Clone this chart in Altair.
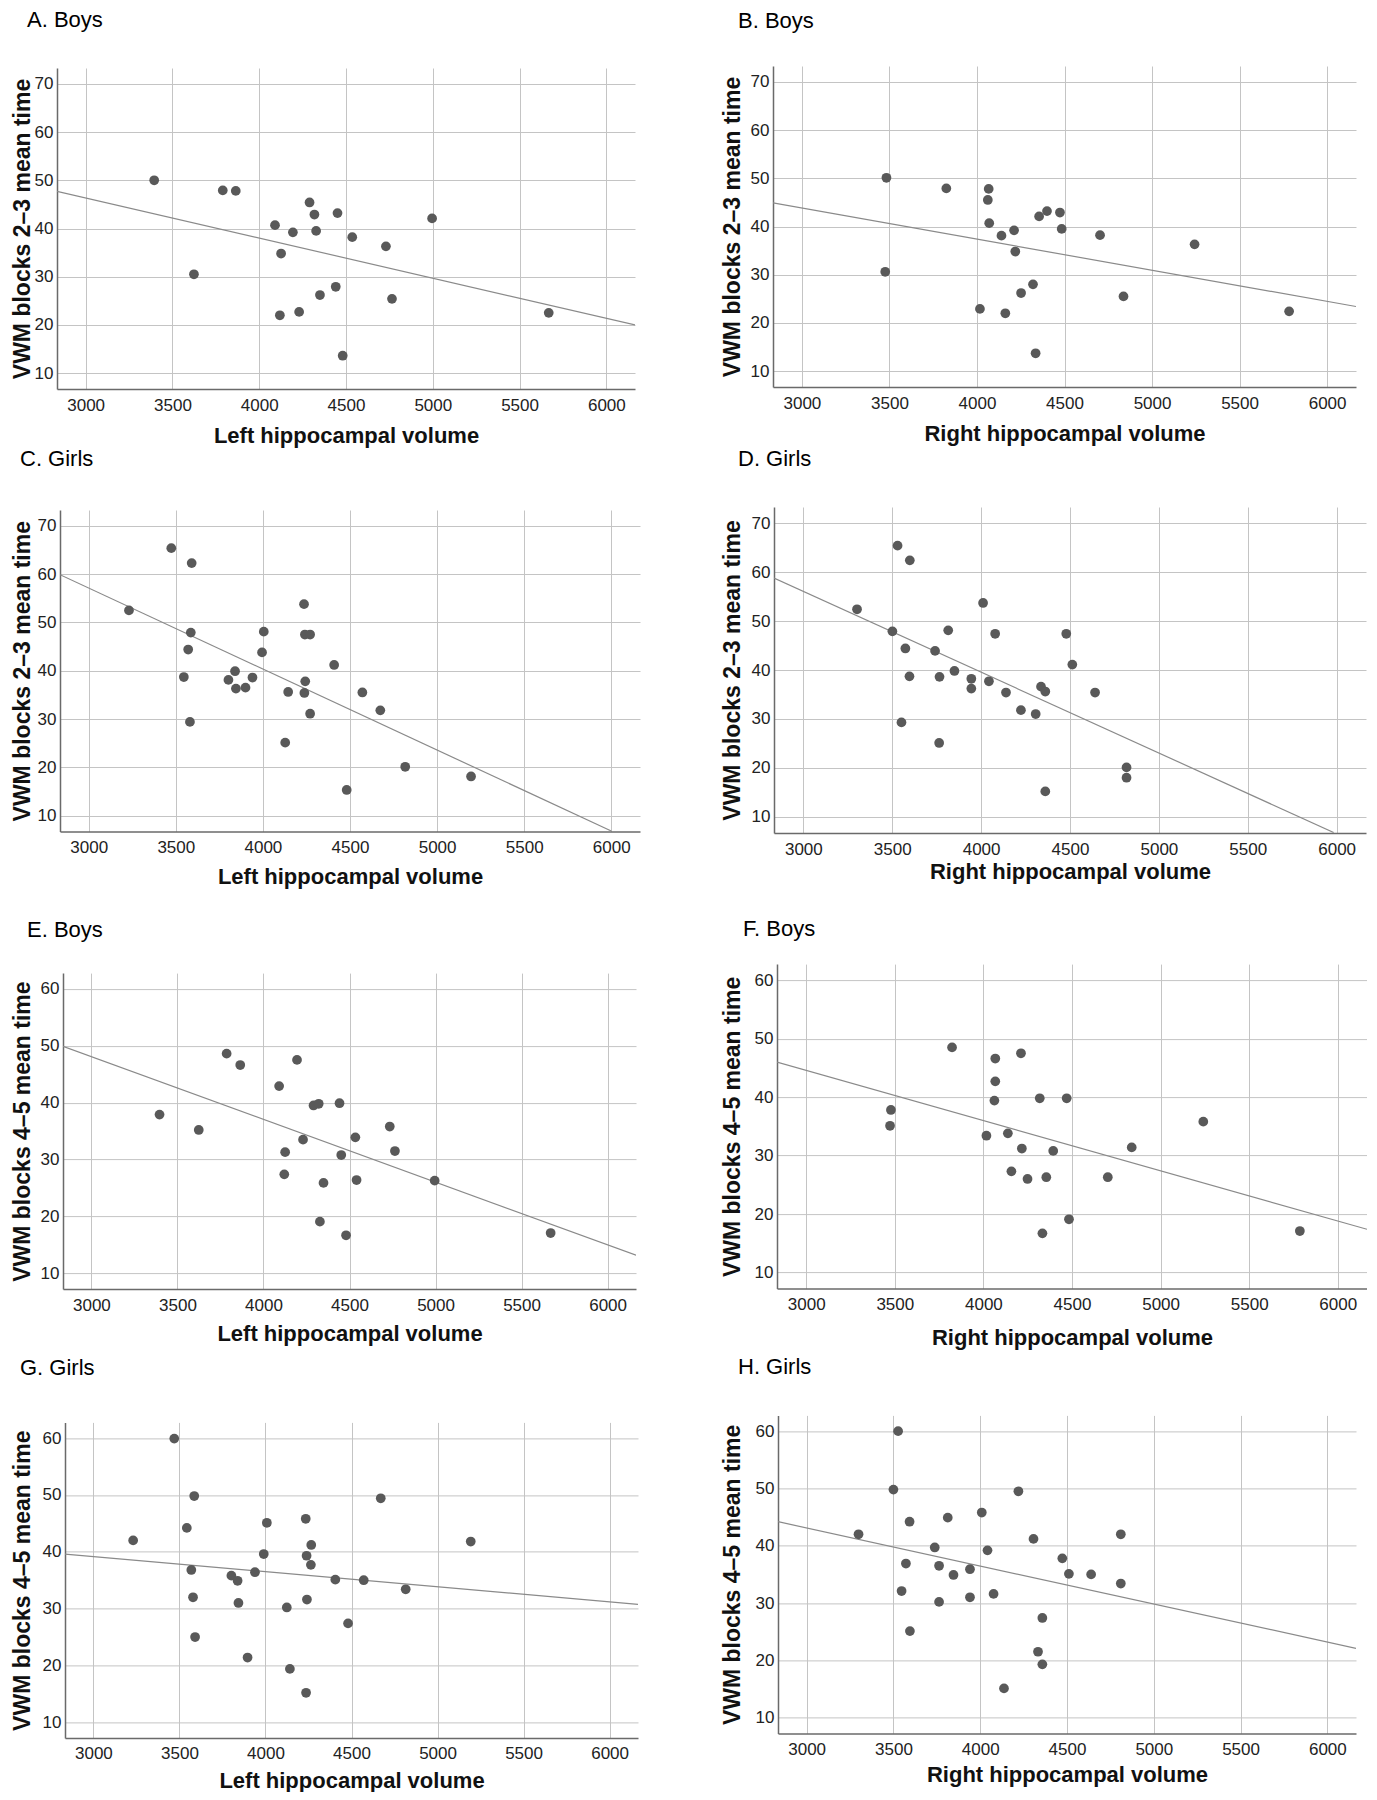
import altair as alt
import pandas as pd

# ---------------- data ----------------
X_TICKS = [3000, 3500, 4000, 4500, 5000, 5500, 6000]
Y_TICKS_23 = [10, 20, 30, 40, 50, 60, 70]
Y_TICKS_45 = [10, 20, 30, 40, 50, 60]
X_DOMAIN = [2835, 6165]
Y_DOMAIN_23 = [6.7, 73.3]
Y_DOMAIN_45 = [7.25, 62.75]

# A. Boys  - left volume vs blocks 2-3
A_x = [3395, 3624, 3790, 3865, 4091, 4126, 4119, 4194, 4230, 4290, 4318,
       4328, 4350, 4451, 4441, 4481, 4536, 4730, 4765, 4996, 5668]
A_y = [50.0, 30.5, 47.9, 47.8, 40.7, 34.8, 22.0, 39.2, 22.7, 45.4, 42.9,
       39.5, 26.2, 43.2, 27.9, 13.6, 38.2, 36.3, 25.4, 42.1, 22.5]
A_fit_x = [2835, 6165]
A_fit_y = [47.7, 20.0]

# B. Boys  - right volume vs blocks 2-3
B_x = [3483, 3476, 3825, 4067, 4062, 4070, 4140, 4212, 4219, 4017, 4162,
       4252, 4320, 4335, 4355, 4400, 4474, 4484, 4703, 4837, 5243, 5783]
B_y = [50.1, 30.6, 47.9, 47.8, 45.5, 40.7, 38.1, 39.2, 34.8, 22.9, 22.0,
       26.2, 28.0, 13.7, 42.1, 43.2, 42.9, 39.5, 38.2, 25.5, 36.3, 22.4]
B_fit_x = [2835, 6165]
B_fit_y = [44.9, 23.4]

# C. Girls - left volume vs blocks 2-3
C_x = [3231, 3474, 3591, 3586, 3571, 3546, 3581, 3802, 3840, 3845, 3900,
       3940, 4005, 3995, 4128, 4145, 4236, 4241, 4271, 4243, 4238, 4271,
       4409, 4481, 4571, 4674, 4817, 5195]
C_y = [52.5, 65.4, 62.3, 47.9, 44.4, 38.7, 29.4, 38.1, 39.9, 36.3, 36.5,
       38.6, 48.1, 43.8, 25.1, 35.6, 53.8, 47.5, 47.5, 37.8, 35.4, 31.1,
       41.2, 15.3, 35.5, 31.8, 20.1, 18.1]
C_fit_x = [2835, 6000]
C_fit_y = [59.9, 6.8]

# D. Girls - right volume vs blocks 2-3
D_x = [3302, 3530, 3599, 3501, 3574, 3597, 3552, 3741, 3766, 3764, 3815,
       3850, 3945, 3945, 4011, 4079, 4044, 4140, 4224, 4307, 4337, 4361,
       4361, 4479, 4513, 4641, 4818, 4818]
D_y = [52.4, 65.4, 62.4, 47.9, 44.4, 38.7, 29.3, 43.9, 38.6, 25.1, 48.1,
       39.8, 38.2, 36.2, 53.7, 47.4, 37.7, 35.4, 31.8, 31.0, 36.6, 35.6,
       15.2, 47.4, 41.1, 35.4, 20.1, 18.0]
D_fit_x = [2835, 5983]
D_fit_y = [58.8, 6.8]

# E. Boys  - left volume vs blocks 4-5
E_x = [3396, 3624, 3786, 3865, 4091, 4195, 4126, 4121, 4230, 4291, 4321,
       4328, 4349, 4442, 4452, 4480, 4534, 4541, 4734, 4764, 4995, 5669]
E_y = [37.9, 35.2, 48.6, 46.6, 42.9, 47.5, 31.3, 27.4, 33.5, 39.5, 39.8,
       19.1, 25.9, 39.9, 30.8, 16.7, 33.9, 26.4, 35.8, 31.5, 26.3, 17.1]
E_fit_x = [2835, 6165]
E_fit_y = [49.9, 13.2]

# F. Boys  - right volume vs blocks 4-5
F_x = [3478, 3473, 3823, 4067, 4067, 4062, 4017, 4138, 4212, 4217, 4158,
       4249, 4318, 4394, 4355, 4333, 4470, 4483, 4702, 4837, 5241, 5786]
F_y = [37.8, 35.1, 48.5, 46.6, 42.7, 39.4, 33.4, 33.8, 47.5, 31.2, 27.3,
       26.0, 39.8, 30.8, 26.3, 16.7, 39.8, 19.1, 26.3, 31.4, 35.8, 17.1]
F_fit_x = [2835, 6165]
F_fit_y = [46.0, 17.4]

# G. Girls - left volume vs blocks 4-5
G_x = [3231, 3470, 3586, 3543, 3569, 3579, 3591, 3802, 3838, 3843, 3896,
       3939, 3990, 4008, 4124, 4142, 4234, 4239, 4266, 4264, 4241, 4236,
       4406, 4480, 4571, 4670, 4815, 5193]
G_y = [42.0, 59.9, 49.8, 44.2, 36.8, 32.0, 25.0, 35.8, 34.9, 31.0, 21.4,
       36.4, 39.6, 45.1, 30.2, 19.4, 45.8, 39.3, 41.2, 37.7, 31.6, 15.2,
       35.1, 27.4, 35.0, 49.4, 33.4, 41.8]
G_fit_x = [2835, 6165]
G_fit_y = [39.6, 30.75]

# H. Girls - right volume vs blocks 4-5
H_x = [3299, 3527, 3500, 3593, 3572, 3547, 3595, 3738, 3763, 3763, 3813,
       3846, 3941, 3941, 4009, 4042, 4077, 4137, 4220, 4307, 4333, 4358,
       4358, 4473, 4511, 4639, 4810, 4810]
H_y = [42.0, 60.0, 49.8, 44.2, 36.9, 32.1, 25.1, 39.7, 36.5, 30.2, 44.9,
       34.9, 35.9, 31.0, 45.8, 39.2, 31.6, 15.1, 49.5, 41.2, 21.5, 27.4,
       19.3, 37.8, 35.1, 35.0, 42.0, 33.4]
H_fit_x = [2835, 6165]
H_fit_y = [44.2, 22.1]

LEFT_T = "Left hippocampal volume"
RIGHT_T = "Right hippocampal volume"
Y23_T = "VWM blocks 2\u20133 mean time"
Y45_T = "VWM blocks 4\u20135 mean time"

# ---------------- styling ----------------
FONT = "Liberation Sans"
PT_COLOR = "#595959"
FIT_COLOR = "#8a8a8a"
GRID_COLOR = "#c4c4c4"
DOMAIN_COLOR = "#6a6a6a"


def panel(title, xs, ys, fx, fy, xtitle, ytitle, ydom, yticks,
          w, h, dx, off, ytp, xtp):
    pts = pd.DataFrame({"x": xs, "y": ys})
    fit = pd.DataFrame({"x": fx, "y": fy})
    xs_ = alt.Scale(domain=X_DOMAIN, nice=False, zero=False)
    ys_ = alt.Scale(domain=ydom, nice=False, zero=False)
    common = dict(grid=True, ticks=False, labelFontSize=17, labelFont=FONT,
                  labelColor="#222222", titleFont=FONT, titleFontWeight="bold",
                  titleColor="#111111", gridColor=GRID_COLOR, gridWidth=1,
                  domainColor=DOMAIN_COLOR, domainWidth=1.5, format="d")
    xa = alt.Axis(values=X_TICKS, title=xtitle, labelPadding=8,
                  titlePadding=xtp, titleFontSize=22, **common)
    ya = alt.Axis(values=yticks, title=ytitle, labelPadding=4,
                  titlePadding=ytp, titleFontSize=23, **common)
    line = alt.Chart(fit).mark_line(color=FIT_COLOR, strokeWidth=1.2,
                                    clip=True).encode(
        x=alt.X("x:Q", scale=xs_, axis=xa),
        y=alt.Y("y:Q", scale=ys_, axis=ya),
    )
    dots = alt.Chart(pts).mark_circle(size=95, color=PT_COLOR,
                                      opacity=1).encode(
        x=alt.X("x:Q", scale=xs_, axis=xa),
        y=alt.Y("y:Q", scale=ys_, axis=ya),
    )
    return alt.layer(line, dots).properties(
        width=w, height=h,
        title=alt.TitleParams(title, anchor="start", frame="group", dx=dx,
                              offset=off, fontSize=22, font=FONT,
                              fontWeight="normal", color="#000000"),
    )


def spacer(w, h):
    # invisible layout helper (no visible marks)
    return alt.Chart(pd.DataFrame({"v": [0]})).mark_point(
        size=0, opacity=0).encode(
        x=alt.X("v:Q", axis=None), y=alt.Y("v:Q", axis=None)
    ).properties(width=w, height=h)


def top(p):
    return alt.vconcat(spacer(1, 1), p, spacing=0)


def row(left, right, gap):
    return alt.hconcat(spacer(3, 1),
                       alt.hconcat(top(left), top(right), spacing=gap),
                       spacing=0)


pA = panel("A. Boys", A_x, A_y, A_fit_x, A_fit_y, LEFT_T, Y23_T,
           Y_DOMAIN_23, Y_TICKS_23, 578, 321, -30, 35.7, 0, 12.8)
pB = panel("B. Boys", B_x, B_y, B_fit_x, B_fit_y, RIGHT_T, Y23_T,
           Y_DOMAIN_23, Y_TICKS_23, 583, 321, -35, 33.3, 6, 12.5)
pC = panel("C. Girls", C_x, C_y, C_fit_x, C_fit_y, LEFT_T, Y23_T,
           Y_DOMAIN_23, Y_TICKS_23, 580, 321.5, -40, 38.9, 3, 10.5)
pD = panel("D. Girls", D_x, D_y, D_fit_x, D_fit_y, RIGHT_T, Y23_T,
           Y_DOMAIN_23, Y_TICKS_23, 592, 326, -36, 36, 7, 4.5)
pE = panel("E. Boys", E_x, E_y, E_fit_x, E_fit_y, LEFT_T, Y45_T,
           Y_DOMAIN_45, Y_TICKS_45, 573, 316, -36, 31.1, 6, 10.5)
pF = panel("F. Boys", F_x, F_y, F_fit_x, F_fit_y, RIGHT_T, Y45_T,
           Y_DOMAIN_45, Y_TICKS_45, 590, 324.5, -34, 22.7, 10, 14.5)
pG = panel("G. Girls", G_x, G_y, G_fit_x, G_fit_y, LEFT_T, Y45_T,
           Y_DOMAIN_45, Y_TICKS_45, 573, 315.6, -45, 42.2, 8, 8.5)
pH = panel("H. Girls", H_x, H_y, H_fit_x, H_fit_y, RIGHT_T, Y45_T,
           Y_DOMAIN_45, Y_TICKS_45, 578, 318, -40, 36, 11, 7.5)

row1 = row(pA, pB, 86)
row2 = row(pC, pD, 81)
row3 = row(pE, pF, 85)
row4 = row(pG, pH, 83)

chart = alt.vconcat(
    row1,
    alt.vconcat(row2, alt.vconcat(row3, row4, spacing=7.3), spacing=30.1),
    spacing=0,
).properties(
    padding={"left": 0, "top": 0, "right": 0, "bottom": 0},
    background="white",
).configure_view(strokeWidth=0)

chart.save("out.html", embed_options={"renderer": "svg", "actions": False})
